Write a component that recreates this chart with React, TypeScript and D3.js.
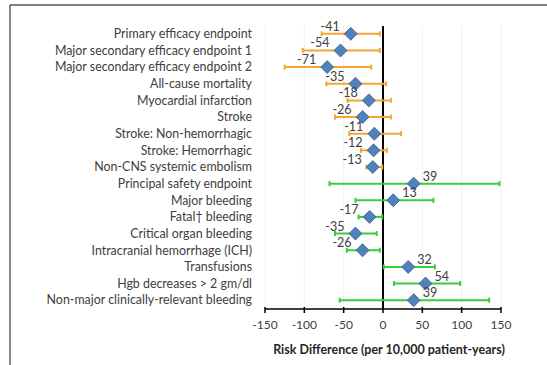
import React from "react";
import * as d3 from "d3";

const categories = [
  "Primary efficacy endpoint",
  "Major secondary efficacy endpoint 1",
  "Major secondary efficacy endpoint 2",
  "All-cause mortality",
  "Myocardial infarction",
  "Stroke",
  "Stroke: Non-hemorrhagic",
  "Stroke: Hemorrhagic",
  "Non-CNS systemic embolism",
  "Principal safety endpoint",
  "Major bleeding",
  "Fatal\u2020 bleeding",
  "Critical organ bleeding",
  "Intracranial hemorrhage (ICH)",
  "Transfusions",
  "Hgb decreases > 2 gm/dl",
  "Non-major clinically-relevant bleeding",
];
const estimates = [-41, -54, -71, -35, -18, -26, -11, -12, -13, 39, 13, -17, -35, -26, 32, 54, 39];
const lower = [-78, -102, -125, -72, -45, -61, -43, -28, -21, -68, -35, -31, -61, -46, 1, 14, -55];
const upper = [-4, -4, -15, 4, 10, 10, 23, 5, -1, 148, 64, -1, -8, -4, 66, 98, 135];
const group = ["eff", "eff", "eff", "eff", "eff", "eff", "eff", "eff", "eff", "saf", "saf", "saf", "saf", "saf", "saf", "saf", "saf"];
const ticks = [-150, -100, -50, 0, 50, 100, 150];

const W = 547;
const H = 365;
const colors: Record<string, string> = { eff: "#F4A534", saf: "#3ACD3A" };

export default function App() {
  const x = d3.scaleLinear().domain([-150, 150]).range([265, 501]);
  const y = d3.scaleBand<number>().domain(d3.range(categories.length)).range([25.5, 308.5]);
  const cy = (i: number) => (y(i) as number) + y.bandwidth() / 2;
  const axisY = 309;
  const font = "Lato, 'Open Sans', sans-serif";
  const ds = 6.5;
  return (
    <svg width={W} height={H} style={{ position: "absolute", left: 0, top: 0, background: "#fff" }} fontFamily={font}>
      {/* frame */}
      <line x1={10} x2={547} y1={5} y2={5} stroke="#555" strokeWidth={1.4} />
      <line x1={10} x2={10} y1={5} y2={365} stroke="#555" strokeWidth={1.4} />
      {/* gridlines */}
      {ticks.map((t) => (
        <line key={"g" + t} x1={x(t)} x2={x(t)} y1={25.5} y2={axisY} stroke="#f0f0f0" strokeWidth={1} />
      ))}
      {/* zero line */}
      <line x1={x(0)} x2={x(0)} y1={26} y2={axisY} stroke="#000" strokeWidth={2} />
      {/* x axis */}
      <line x1={x(-150)} x2={x(150)} y1={axisY} y2={axisY} stroke="#000" strokeWidth={1.5} />
      {ticks.map((t) => (
        <g key={"t" + t}>
          <line x1={x(t)} x2={x(t)} y1={axisY - 2} y2={axisY + 4} stroke="#000" strokeWidth={1.5} />
          <text x={x(t)} y={axisY + 20} textAnchor="middle" fontSize={12} fill="#404040">
            {t}
          </text>
        </g>
      ))}
      <text x={389} y={354} textAnchor="middle" fontSize={12.5} fontWeight="bold" fill="#262626">
        Risk Difference (per 10,000 patient-years)
      </text>
      {/* category labels */}
      {categories.map((c, i) => (
        <text key={"c" + i} x={252} y={cy(i) + 4.3} textAnchor="end" fontSize={12.4} fill="#404040">
          {c}
        </text>
      ))}
      {/* error bars */}
      {categories.map((c, i) => {
        const col = colors[group[i]];
        const yy = cy(i);
        return (
          <g key={"e" + i} stroke={col} strokeWidth={2}>
            <line x1={x(lower[i])} x2={x(upper[i])} y1={yy} y2={yy} />
            <line x1={x(lower[i])} x2={x(lower[i])} y1={yy - 2.5} y2={yy + 2.5} />
            <line x1={x(upper[i])} x2={x(upper[i])} y1={yy - 2.5} y2={yy + 2.5} />
          </g>
        );
      })}
      {/* diamonds and labels */}
      {categories.map((c, i) => {
        const xx = x(estimates[i]);
        const yy = cy(i);
        const neg = estimates[i] < 0;
        return (
          <g key={"d" + i}>
            <path
              d={`M${xx},${yy - ds} L${xx + ds},${yy} L${xx},${yy + ds} L${xx - ds},${yy} Z`}
              fill="#4F81BD"
              stroke="#385D8A"
              strokeWidth={0.8}
            />
            <text
              x={neg ? xx - 11 : xx + 9}
              y={yy - 3}
              textAnchor={neg ? "end" : "start"}
              fontSize={12.5}
              fill="#404040"
            >
              {estimates[i]}
            </text>
          </g>
        );
      })}
    </svg>
  );
}
